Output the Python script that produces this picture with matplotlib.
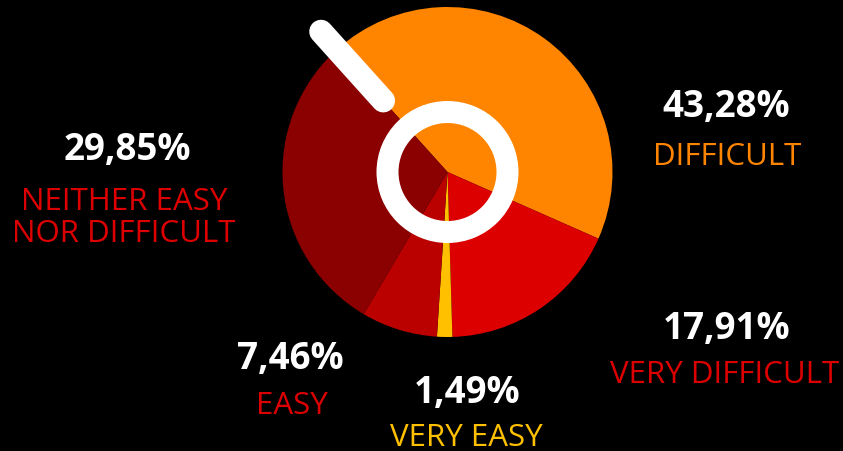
import matplotlib
matplotlib.use("Agg")
import matplotlib.pyplot as plt
from matplotlib.patches import Wedge
import numpy as np

# Survey answers: how difficult was it?
categories = ["DIFFICULT", "VERY DIFFICULT", "VERY EASY", "EASY", "NEITHER EASY\nNOR DIFFICULT"]
shares = [43.28, 17.91, 1.49, 7.46, 29.85]
value_labels = ["43,28%", "17,91%", "1,49%", "7,46%", "29,85%"]

slice_colors = ["#FF8500", "#DD0000", "#FFC000", "#BB0000", "#8B0000"]
label_colors = ["#FF8500", "#DD0000", "#FFC000", "#DD0000", "#DD0000"]

W, H = 843, 452
fig = plt.figure(figsize=(W / 100, H / 100), dpi=100, facecolor="black")
ax = fig.add_axes([0, 0, 1, 1])
ax.set_facecolor("black")

cx, cy, r = 447.5, H - 173, 165
start = 132

ax.pie(shares, colors=slice_colors, startangle=start, counterclock=False,
       center=(cx, cy), radius=r, frame=True,
       wedgeprops=dict(linewidth=0))
ax.set_xlim(0, W)
ax.set_ylim(0, H)
ax.set_aspect("equal")
ax.axis("off")

# White ring in the middle
ax.add_patch(Wedge((cx, cy), 71, 0, 360, width=22, facecolor="white",
                   edgecolor="none", zorder=5))

# Needle pointing at the start of the first slice
ang = np.deg2rad(start)
r0, r1 = 96, 189
ax.plot([cx + r0 * np.cos(ang), cx + r1 * np.cos(ang)],
        [cy + r0 * np.sin(ang), cy + r1 * np.sin(ang)],
        color="white", linewidth=17, solid_capstyle="round", zorder=6)

# Label positions (value line, first name line) in pixel space
value_pos = [(726, 107), (727, 329), (467, 393), (290, 359), (127, 150)]
name_pos = [(727, 157), (725, 375), (466, 438), (292, 406), (124, 202)]
line_step = 32

for v, n, (vx, vy), (nx, ny), c in zip(value_labels, categories, value_pos,
                                       name_pos, label_colors):
    ax.text(vx, H - vy, v, color="white", fontsize=26.5, fontweight="bold",
            family="Open Sans", ha="center", va="center")
    for i, line in enumerate(n.split("\n")):
        ax.text(nx, H - (ny + i * line_step), line, color=c, fontsize=22.5,
                family="Open Sans", ha="center", va="center")

fig.savefig("out.png", dpi=100, facecolor="black")
